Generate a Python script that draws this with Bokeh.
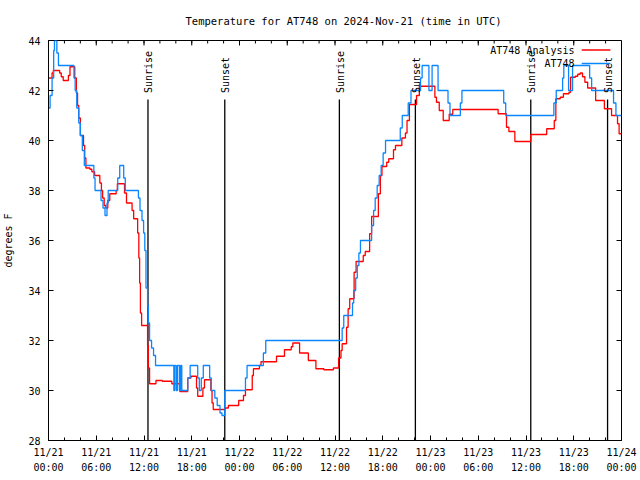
import numpy as np
from bokeh.plotting import figure
from bokeh.models import FixedTicker, Label, BoxAnnotation, Range1d
from bokeh.embed import file_html
from bokeh.resources import INLINE

# ---- data (hours since 2024-11-21 00:00 UTC, temperature in F) ----
title_text = "Temperature for AT748 on 2024-Nov-21 (time in UTC)"
x_tick_hours = [0, 6, 12, 18, 24, 30, 36, 42, 48, 54, 60, 66, 72]
x_tick_labels = ["11/21\n00:00", "11/21\n06:00", "11/21\n12:00", "11/21\n18:00",
                 "11/22\n00:00", "11/22\n06:00", "11/22\n12:00", "11/22\n18:00",
                 "11/23\n00:00", "11/23\n06:00", "11/23\n12:00", "11/23\n18:00",
                 "11/24\n00:00"]
x_minor_hours = list(range(0, 73, 2))
y_ticks = [28, 30, 32, 34, 36, 38, 40, 42, 44]

obs_hours = [0.0, 0.2, 0.45, 0.65, 0.75, 1.05, 1.25, 3.2, 3.35, 3.55, 3.8, 4.0, 4.25, 4.5,
             5.7, 5.85, 6.6, 6.85, 7.1, 7.35, 7.5, 8.7, 8.95, 9.45, 9.65, 11.3, 11.5, 11.75,
             11.95, 12.1, 12.25, 12.45, 12.55, 12.7, 12.95, 13.2, 13.45, 15.75, 15.85, 16.05,
             16.2, 16.45, 16.6, 16.75, 17.5, 17.8, 18.75, 18.95, 19.2, 19.45, 20.25, 20.45,
             20.9, 21.2, 21.55, 21.8, 22.15, 24.75, 24.95, 27.0, 27.3, 36.9, 37.1, 38.2,
             38.35, 38.6, 38.8, 39.0, 39.2, 40.6, 40.85, 41.05, 41.3, 41.55, 41.8, 42.05,
             42.35, 44.2, 44.45, 45.2, 45.55, 46.75, 46.95, 47.8, 48.2, 48.95, 50.2, 50.45,
             51.75, 51.95, 57.2, 57.45, 63.5, 63.8, 64.6, 64.75, 65.35, 65.85, 68.0, 68.25,
             71.0, 71.3, 72.0]
obs_temps = [41.3, 41.8, 42.5, 43.6, 44.0, 43.5, 43.0, 42.5, 42.0, 41.3, 40.7, 40.2, 39.6, 39.0,
             38.5, 38.0, 37.6, 37.3, 37.0, 37.5, 38.0, 38.5, 39.0, 38.5, 38.0, 37.7, 37.2, 36.8,
             36.3, 35.6, 34.1, 33.4, 32.7, 32.0, 31.7, 31.4, 31.0, 30.0, 31.0, 30.0,
             31.0, 30.0, 31.0, 30.0, 30.5, 31.0, 30.5, 30.0, 30.5, 31.0, 30.5, 30.0,
             29.7, 29.4, 29.1, 29.0, 30.0, 30.5, 31.0, 31.5, 32.0, 32.5, 33.0, 33.5,
             34.0, 34.5, 35.0, 35.5, 36.0, 36.6, 37.2, 37.7, 38.2, 38.6, 39.0, 39.5,
             40.0, 40.5, 41.0, 41.5, 42.0, 42.5, 43.0, 42.0, 43.0, 42.0, 41.5, 41.0,
             41.5, 42.0, 41.5, 41.0, 41.5, 42.0, 42.5, 43.0, 42.0, 43.0, 42.5, 42.0,
             41.5, 41.0, 41.0]

ana_hours = [0.0, 0.45, 0.6, 1.4, 1.6, 1.85, 2.5, 2.7, 3.3, 3.5, 3.65, 3.8, 4.0, 4.4, 4.55, 4.7,
             5.2, 5.45, 5.8, 6.45, 6.65, 6.8, 7.0, 7.2, 7.45, 7.7, 8.5, 8.65, 9.55, 9.8, 10.5,
             10.7, 11.2, 11.35, 11.45, 11.55, 11.7, 12.45, 12.55, 12.7, 13.5, 14.3, 15.5, 16.5,
             17.5, 17.9, 18.6, 18.75, 19.4, 19.6, 20.4, 20.55, 20.7, 22.2, 22.6, 23.9, 24.5,
             24.75, 25.6, 25.75, 26.5, 26.7, 28.65, 29.65, 30.5, 30.7, 31.55, 32.65, 33.6,
             34.6, 35.8, 36.45, 36.75, 36.9, 37.45, 37.65, 37.85, 38.4, 38.65, 39.55, 39.8,
             40.35, 40.6, 41.45, 41.7, 41.9, 42.5, 42.75, 43.35, 43.6, 44.4, 44.85, 45.05,
             45.35, 46.25, 46.6, 48.55, 48.75, 49.1, 49.6, 50.35, 50.8, 56.5, 57.55, 57.85,
             58.6, 60.6, 62.6, 63.55, 63.75, 64.3, 64.7, 65.4, 65.6, 66.2, 66.5, 66.8, 67.1,
             67.4, 67.75, 68.75, 69.85, 70.75, 71.5, 71.7, 72.0]
ana_temps = [42.5, 42.7, 42.8, 42.7, 42.55, 42.4, 42.6, 42.95, 42.5, 41.9, 41.4, 40.9, 40.2, 39.8, 39.3, 38.9,
             38.85, 38.75, 38.6, 38.3, 38.0, 37.7, 37.4, 37.3, 37.6, 37.87, 38.0, 38.27, 37.9, 37.5, 37.2,
             36.87, 36.3, 35.3, 34.3, 33.1, 32.6, 31.8, 30.9, 30.27, 30.4, 30.37, 30.27, 29.96,
             30.5, 30.57, 30.1, 29.77, 30.1, 30.43, 30.0, 29.5, 29.24, 29.3, 29.4, 29.6, 29.8,
             30.03, 30.6, 30.87, 31.0, 31.15, 31.37, 31.63, 31.75, 31.9, 31.5, 31.2, 30.87,
             30.83, 30.9, 31.3, 31.6, 31.87, 32.53, 33.27, 33.67, 34.73, 35.16, 35.4, 35.56,
             36.27, 36.96, 37.87, 38.6, 38.96, 39.13, 39.27, 39.63, 39.8, 40.1, 40.3, 40.8,
             41.44, 41.8, 42.17, 41.73, 41.53, 41.2, 40.8, 41.05, 41.24, 41.07, 40.53, 40.36,
             39.96, 40.24, 40.47, 40.8, 41.67, 41.73, 41.87, 41.93, 42.53, 42.57, 42.65, 42.7, 42.55,
             42.33, 42.1, 41.6, 41.27, 41.0, 40.67, 40.27, 40.27]

event_hours = [12.5, 22.15, 36.55, 46.1, 60.6, 70.25]
event_names = ["Sunrise", "Sunset", "Sunrise", "Sunset", "Sunrise", "Sunset"]

series_names = ["AT748 Analysis", "AT748"]
series_colors = ["#ff0000", "#0a86ff"]

X_MIN, X_MAX = 0, 72
Y_MIN, Y_MAX = 28, 44
EVENT_LINE_TOP = 41.64
EVENT_LABEL_Y = 41.9

FONT = "DejaVu Sans Mono"
FS = "10px"

FRAME_W, FRAME_H = 574, 400
px_x = (X_MAX - X_MIN) / FRAME_W   # hours per pixel
px_y = (Y_MAX - Y_MIN) / FRAME_H   # degrees per pixel

p = figure(width=640, height=480, output_backend="svg", toolbar_location=None,
           x_range=Range1d(X_MIN, X_MAX), y_range=Range1d(Y_MIN, Y_MAX),
           min_border_left=47, min_border_right=19, min_border_top=40, min_border_bottom=40,
           title=title_text)

p.title.text_font = FONT
p.title.text_font_size = "10.5px"
p.title.text_font_style = "normal"
p.title.text_color = "black"
p.title.align = "left"
p.title.offset = 137
p.title.vertical_align = "top"
p.title.standoff = 24

p.grid.visible = False
p.outline_line_color = "black"
p.outline_line_width = 1
p.background_fill_color = "white"
p.border_fill_color = "white"

xax = p.xaxis[0]
xax.ticker = FixedTicker(ticks=x_tick_hours, minor_ticks=x_minor_hours)
xax.major_label_overrides = {h: lab for h, lab in zip(x_tick_hours, x_tick_labels)}
yax = p.yaxis[0]
yax.ticker = FixedTicker(ticks=y_ticks, minor_ticks=[])
yax.axis_label = "degrees F"

for ax in (xax, yax):
    ax.major_tick_in = 5
    ax.major_tick_out = 0
    ax.minor_tick_in = 3
    ax.minor_tick_out = 0
    ax.axis_line_color = "black"
    ax.major_tick_line_color = "black"
    ax.minor_tick_line_color = "black"
    ax.major_label_text_font = FONT
    ax.major_label_text_font_size = FS
    ax.major_label_text_color = "black"
    ax.axis_label_text_font = FONT
    ax.axis_label_text_font_size = FS
    ax.axis_label_text_font_style = "normal"
    ax.axis_label_text_color = "black"

xax.major_label_standoff = 6
xax.major_label_text_line_height = 1.4
yax.major_label_standoff = 8
yax.axis_label_standoff = 11

# mirrored tick marks on the top and right edges (gnuplot style)
p.segment(x0=x_tick_hours, y0=[Y_MAX] * len(x_tick_hours), x1=x_tick_hours,
          y1=[Y_MAX - 5 * px_y] * len(x_tick_hours), line_color="black", line_width=1)
p.segment(x0=x_minor_hours, y0=[Y_MAX] * len(x_minor_hours), x1=x_minor_hours,
          y1=[Y_MAX - 3 * px_y] * len(x_minor_hours), line_color="black", line_width=1)
p.segment(x0=[X_MAX] * len(y_ticks), y0=y_ticks, x1=[X_MAX - 5 * px_x] * len(y_ticks),
          y1=y_ticks, line_color="black", line_width=1)

# sunrise / sunset markers
p.segment(x0=event_hours, y0=[Y_MIN] * len(event_hours), x1=event_hours,
          y1=[EVENT_LINE_TOP] * len(event_hours), line_color="black", line_width=1.3)
for h, name in zip(event_hours, event_names):
    p.add_layout(Label(x=h, y=EVENT_LABEL_Y, text=name, angle=np.pi / 2,
                       text_align="left", text_baseline="middle", x_offset=1,
                       text_font=FONT, text_font_size=FS, text_color="black"))

# series
p.step(ana_hours, ana_temps, mode="after", line_color=series_colors[0], line_width=1.3)
p.step(obs_hours, obs_temps, mode="after", line_color=series_colors[1], line_width=1.3)

# key (gnuplot style: text then line sample)
key_text_x = 66.1
key_rows = [43.62, 43.08]
for name, color, ky in zip(series_names, series_colors, key_rows):
    p.add_layout(Label(x=key_text_x, y=ky, text=name, text_align="right",
                       text_baseline="middle", text_font=FONT, text_font_size=FS,
                       text_color="black"))
    p.add_layout(BoxAnnotation(left=67.0, right=70.6, bottom=ky - 0.03, top=ky + 0.03,
                               fill_color=color, fill_alpha=1.0, line_color=None))

open("out.html", "w").write(file_html(p, INLINE))
